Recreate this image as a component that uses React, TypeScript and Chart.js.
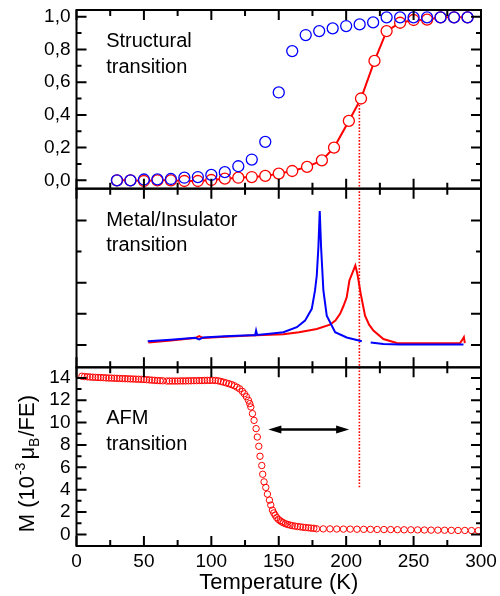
import React, { useEffect, useRef } from 'react';
import { Chart, registerables } from 'chart.js';

Chart.register(...registerables);

const FONT = '"Liberation Sans", Arial, Helvetica, sans-serif';

// ---- Top panel: structural transition ----
const structBlueT = [30, 40, 50, 60, 70, 80, 90, 100, 110, 120, 130, 140, 150, 160, 170, 180, 190, 200, 210, 220, 230, 240, 250, 260, 270, 280, 290];
const structBlueY = [0.0, 0.0, 0.005, 0.006, 0.008, 0.016, 0.02, 0.033, 0.05, 0.086, 0.127, 0.235, 0.537, 0.79, 0.888, 0.912, 0.929, 0.943, 0.953, 0.965, 0.996, 0.996, 0.996, 0.996, 0.996, 0.996, 0.996];
const structRedT = [30, 40, 50, 60, 70, 80, 90, 100, 110, 120, 130, 140, 150, 160, 171, 182, 191, 202, 211, 221, 230, 240, 250, 260, 270, 280, 290];
const structRedY = [0.0, 0.0, -0.004, 0.0, 0.0, -0.004, -0.004, 0.002, 0.01, 0.016, 0.02, 0.027, 0.041, 0.057, 0.082, 0.122, 0.2, 0.363, 0.5, 0.73, 0.912, 0.963, 0.98, 0.982, 0.996, 0.996, 0.996];

// ---- Middle panel: metal/insulator transition (arb. units) ----
const mitBlueT = [52.8, 70, 88, 91, 94, 110, 128.7, 132.5, 133.2, 134, 145, 153.4, 163.4, 169.5, 174.5, 176.9, 178.2, 179.4, 180.4, 181.4, 183.1, 185.6, 191.8, 200.4, 211.6, 215, 218.2, 227.6, 240, 287];
const mitBlueY = [0.12, 0.17, 0.23, 0.18, 0.24, 0.28, 0.31, 0.31, 0.46, 0.32, 0.37, 0.41, 0.57, 0.78, 1.16, 1.75, 2.23, 3.14, 4.30, 3.14, 1.75, 0.94, 0.41, 0.24, 0.12, null, 0.08, 0.03, 0.01, 0.01];
const mitRedT = [53.3, 70, 88, 91, 94, 110, 128.7, 153.4, 165, 178.2, 188, 192, 195.5, 198, 200.4, 202.4, 205.3, 206.8, 208.3, 210.8, 214, 217, 220.2, 227.6, 237.5, 252.4, 284.5, 286.5, 287.3, 288];
const mitRedY = [0.08, 0.14, 0.22, 0.28, 0.22, 0.26, 0.30, 0.34, 0.41, 0.51, 0.65, 0.78, 1.0, 1.25, 1.53, 2.07, 2.39, 2.55, 2.29, 1.64, 0.94, 0.65, 0.46, 0.19, 0.06, 0.05, 0.06, 0.19, 0.25, 0.06];

// ---- Bottom panel: magnetization ----
const magT = [
  4, 6, 8, 10, 12, 14, 16, 18, 20, 22, 24, 26, 28, 30, 32, 34, 36, 38, 40, 42, 44, 46, 48, 50, 52, 54, 56, 58, 60, 62, 64,
  67, 69, 71, 73, 75, 77, 79, 81, 83, 85, 87, 89, 91, 93, 95, 97, 99, 101, 103, 105, 107, 109, 111, 113, 115,
  117, 119, 121, 123, 124.5, 126, 127.5, 128.5, 129.3, 130.5, 131.7, 133.2, 134.1, 135.2, 136.1, 137.4, 138.1, 139.1, 140.4,
  141.6, 143.1, 144.1, 145.3, 146.3, 147.3, 148.5, 149.7, 151, 152.2, 153.4, 155, 156.7, 158.4, 160, 162, 164, 166, 168, 170, 172, 174, 176,
  178, 183, 188, 193, 198, 203, 208, 213, 218, 223, 228, 233, 238, 243, 248, 253, 258, 263, 268, 273, 278, 283, 288, 293, 298,
];
const magM = [
  14.15, 14.12, 14.10, 14.08, 14.06, 14.05, 14.04, 14.03, 14.02, 14.00, 13.99, 13.98, 13.97, 13.96, 13.95, 13.94, 13.93, 13.92, 13.91, 13.90, 13.89, 13.88, 13.87, 13.86, 13.84, 13.82, 13.80, 13.78, 13.76, 13.75, 13.74,
  13.72, 13.72, 13.72, 13.72, 13.72, 13.73, 13.73, 13.73, 13.74, 13.74, 13.75, 13.75, 13.76, 13.76, 13.77, 13.78, 13.78, 13.78, 13.77, 13.74, 13.68, 13.62, 13.55, 13.48, 13.40,
  13.30, 13.17, 13.02, 12.80, 12.58, 12.32, 12.0, 11.7, 11.4, 10.8, 10.2, 9.46, 8.71, 7.88, 6.99, 6.16, 5.38, 4.70, 4.2,
  3.6, 3.06, 2.62, 2.17, 1.92, 1.72, 1.5, 1.34, 1.22, 1.12, 1.04, 0.95, 0.88, 0.83, 0.78, 0.74, 0.70, 0.67, 0.64, 0.61, 0.59, 0.56, 0.54,
  0.50, 0.49, 0.49, 0.48, 0.47, 0.47, 0.46, 0.45, 0.45, 0.44, 0.43, 0.43, 0.42, 0.41, 0.41, 0.40, 0.39, 0.38, 0.38, 0.37, 0.36, 0.35, 0.35, 0.34, 0.33,
];

// ---- Axis ticks ----
const xMajorTicks = [0, 50, 100, 150, 200, 250, 300];
const xMinorTicks = [25, 75, 125, 175, 225, 275];
const topMajorTicks = [0, 0.2, 0.4, 0.6, 0.8, 1.0];
const topMinorTicks = [0.1, 0.3, 0.5, 0.7, 0.9];
const midMajorTicks = [0, 1, 2, 4];
const midMinorTicks = [3];
const botMajorTicks = [0, 2, 4, 6, 8, 10, 12, 14];
const botMinorTicks = [1, 3, 5, 7, 9, 11, 13];

// ---- Annotations (data coordinates) ----
const panelLabels = [
  { axis: 'yTop', x: 22, lines: [['Structural', 0.814], ['transition', 0.655]] },
  { axis: 'yMid', x: 22, lines: [['Metal/Insulator', 3.82], ['transition', 3.02]] },
  { axis: 'yBot', x: 22, lines: [['AFM', 9.84], ['transition', 7.56]] },
];
const dottedLineT = 209.8;
const dottedTopValue = 0.5;
const dottedBottomValue = 4.1;
const arrowFromT = 142.3;
const arrowToT = 202.2;
const arrowM = 9.39;

const zip = (xs: number[], ys: (number | null)[]) => xs.map((x, i) => ({ x, y: ys[i] }));

const panelsPlugin = {
  id: 'panels',
  beforeDatasetsDraw(chart: any) {
    const { ctx, scales } = chart;
    const x = scales.x.getPixelForValue(dottedLineT);
    ctx.save();
    ctx.strokeStyle = '#ff0000';
    ctx.lineWidth = 1.6;
    ctx.setLineDash([1.6, 1.6]);
    ctx.beginPath();
    ctx.moveTo(x, scales.yTop.getPixelForValue(dottedTopValue));
    ctx.lineTo(x, scales.yBot.getPixelForValue(dottedBottomValue));
    ctx.stroke();
    ctx.restore();
  },
  afterDatasetsDraw(chart: any) {
    const { ctx, scales } = chart;
    const x1 = scales.x.getPixelForValue(arrowFromT);
    const x2 = scales.x.getPixelForValue(arrowToT);
    const y = scales.yBot.getPixelForValue(arrowM);
    const hl = 13;
    const hw = 4;
    ctx.save();
    ctx.fillStyle = '#000';
    ctx.strokeStyle = '#000';
    ctx.lineWidth = 2.5;
    ctx.beginPath();
    ctx.moveTo(x1 + hl - 2, y);
    ctx.lineTo(x2 - hl + 2, y);
    ctx.stroke();
    ctx.beginPath();
    ctx.moveTo(x1, y);
    ctx.lineTo(x1 + hl, y - hw);
    ctx.lineTo(x1 + hl, y + hw);
    ctx.closePath();
    ctx.fill();
    ctx.beginPath();
    ctx.moveTo(x2, y);
    ctx.lineTo(x2 - hl, y - hw);
    ctx.lineTo(x2 - hl, y + hw);
    ctx.closePath();
    ctx.fill();
    ctx.font = `20px ${FONT}`;
    ctx.textAlign = 'left';
    ctx.textBaseline = 'alphabetic';
    panelLabels.forEach((p) => {
      const px = scales.x.getPixelForValue(p.x);
      p.lines.forEach(([t, v]: any) => {
        ctx.fillText(t, px, scales[p.axis].getPixelForValue(v));
      });
    });
    ctx.restore();
  },
  afterDraw(chart: any) {
    const { ctx, scales } = chart;
    const xs = scales.x;
    const panels = [
      { s: scales.yTop, maj: topMajorTicks, min: topMinorTicks },
      { s: scales.yMid, maj: midMajorTicks, min: midMinorTicks },
      { s: scales.yBot, maj: botMajorTicks, min: botMinorTicks },
    ];
    ctx.save();
    ctx.strokeStyle = '#000';
    ctx.lineWidth = 2;
    ctx.lineCap = 'butt';
    const L = xs.left;
    const R = xs.right;
    panels.forEach(({ s, maj, min }) => {
      ctx.strokeRect(L, s.top, R - L, s.bottom - s.top);
      ctx.beginPath();
      const xt = (vals: number[], len: number) => {
        vals.forEach((v) => {
          const px = xs.getPixelForValue(v);
          ctx.moveTo(px, s.top);
          ctx.lineTo(px, s.top + len);
          ctx.moveTo(px, s.bottom);
          ctx.lineTo(px, s.bottom - len);
        });
      };
      const yt = (vals: number[], len: number) => {
        vals.forEach((v) => {
          const py = s.getPixelForValue(v);
          ctx.moveTo(L, py);
          ctx.lineTo(L + len, py);
          ctx.moveTo(R, py);
          ctx.lineTo(R - len, py);
        });
      };
      xt(xMajorTicks, 10);
      xt(xMinorTicks, 6);
      yt(maj, 10);
      yt(min, 5);
      ctx.stroke();
    });
    const parts = [
      { t: 'M (10', size: 22, dy: 0, gap: 0 },
      { t: '-3', size: 14, dy: -9, gap: 1 },
      { t: 'μ', size: 22, dy: 0, gap: 3 },
      { t: 'B', size: 14, dy: 5, gap: 0 },
      { t: '/FE)', size: 22, dy: 0, gap: 1 },
    ];
    let total = 0;
    parts.forEach((p) => {
      ctx.font = `${p.size}px ${FONT}`;
      total += p.gap + ctx.measureText(p.t).width;
    });
    const sb = scales.yBot;
    const cy = (sb.top + sb.bottom) / 2 + 7;
    ctx.translate(34, cy);
    ctx.rotate(-Math.PI / 2);
    ctx.fillStyle = '#000';
    ctx.textAlign = 'left';
    ctx.textBaseline = 'alphabetic';
    let cx = -total / 2;
    parts.forEach((p) => {
      ctx.font = `${p.size}px ${FONT}`;
      cx += p.gap;
      ctx.fillText(p.t, cx, p.dy);
      cx += ctx.measureText(p.t).width;
    });
    ctx.restore();
  },
};

const tickFont = { family: FONT, size: 19 };
const noGrid = { display: false, drawTicks: false };
const fixY = (s: any) => {
  s.width = 76.5;
  s.paddingTop = 0;
  s.paddingBottom = 0;
};

export default function App() {
  const ref = useRef<HTMLCanvasElement | null>(null);
  useEffect(() => {
    if (!ref.current) return;
    const chart = new Chart(ref.current, {
      type: 'scatter',
      data: {
        datasets: [
          {
            label: 'structural blue',
            data: zip(structBlueT, structBlueY),
            yAxisID: 'yTop',
            showLine: false,
            pointRadius: 5.5,
            pointBorderWidth: 1.3,
            pointBorderColor: '#0000ff',
            pointBackgroundColor: 'rgba(0,0,0,0)',
            order: 0,
          },
          {
            label: 'structural red',
            data: zip(structRedT, structRedY),
            yAxisID: 'yTop',
            showLine: true,
            borderColor: '#ff0000',
            borderWidth: 2,
            pointRadius: 5.5,
            pointBorderWidth: 1.3,
            pointBorderColor: '#ff0000',
            pointBackgroundColor: '#ffffff',
            order: 1,
          },
          {
            label: 'MIT blue',
            data: zip(mitBlueT, mitBlueY),
            yAxisID: 'yMid',
            showLine: true,
            spanGaps: false,
            borderColor: '#0000ff',
            borderWidth: 2,
            pointRadius: 0,
            order: 2,
          },
          {
            label: 'MIT red',
            data: zip(mitRedT, mitRedY),
            yAxisID: 'yMid',
            showLine: true,
            borderColor: '#ff0000',
            borderWidth: 2,
            pointRadius: 0,
            order: 3,
          },
          {
            label: 'M',
            data: zip(magT, magM),
            yAxisID: 'yBot',
            showLine: false,
            pointRadius: 3.2,
            pointBorderWidth: 1,
            pointBorderColor: '#ff0000',
            pointBackgroundColor: 'rgba(0,0,0,0)',
            order: 4,
          },
        ],
      },
      options: {
        responsive: false,
        animation: false,
        events: [],
        layout: { padding: { top: 10, right: 19, left: 0, bottom: 0 } },
        plugins: { legend: { display: false }, tooltip: { enabled: false } },
        scales: {
          x: {
            type: 'linear',
            position: 'bottom',
            min: 0,
            max: 300,
            grid: noGrid,
            border: { display: false },
            ticks: { stepSize: 50, font: tickFont, color: '#000', padding: 4, maxRotation: 0, autoSkip: false, includeBounds: false },
            title: { display: true, text: 'Temperature (K)', font: { family: FONT, size: 22 }, color: '#000', padding: { top: 0, bottom: 0 } },
            afterFit: (s: any) => {
              s.height = 50;
              s.paddingLeft = 0;
              s.paddingRight = 0;
            },
          },
          yBot: {
            type: 'linear',
            position: 'left',
            stack: 'panels',
            stackWeight: 1,
            weight: 1,
            min: -1.04,
            max: 14.945,
            grid: noGrid,
            border: { display: false },
            ticks: { stepSize: 2, font: tickFont, color: '#000', padding: 6, includeBounds: false, autoSkip: false },
            afterFit: fixY,
          },
          yMid: {
            type: 'linear',
            position: 'left',
            stack: 'panels',
            stackWeight: 1,
            weight: 2,
            min: -0.72,
            max: 5.02,
            grid: noGrid,
            border: { display: false },
            ticks: { display: false, includeBounds: false },
            afterFit: fixY,
          },
          yTop: {
            type: 'linear',
            position: 'left',
            stack: 'panels',
            stackWeight: 1,
            weight: 3,
            min: -0.051,
            max: 1.041,
            grid: noGrid,
            border: { display: false },
            ticks: {
              stepSize: 0.2,
              font: tickFont,
              color: '#000',
              padding: 6,
              includeBounds: false,
              autoSkip: false,
              callback: (v: any) => Number(v).toFixed(1).replace('.', ','),
            },
            afterFit: fixY,
          },
        },
      } as any,
      plugins: [panelsPlugin],
    });
    return () => chart.destroy();
  }, []);
  return (
    <div style={{ position: 'absolute', left: 0, top: 0, width: 500, height: 596, background: '#fff' }}>
      <canvas ref={ref} width={500} height={596} />
    </div>
  );
}
